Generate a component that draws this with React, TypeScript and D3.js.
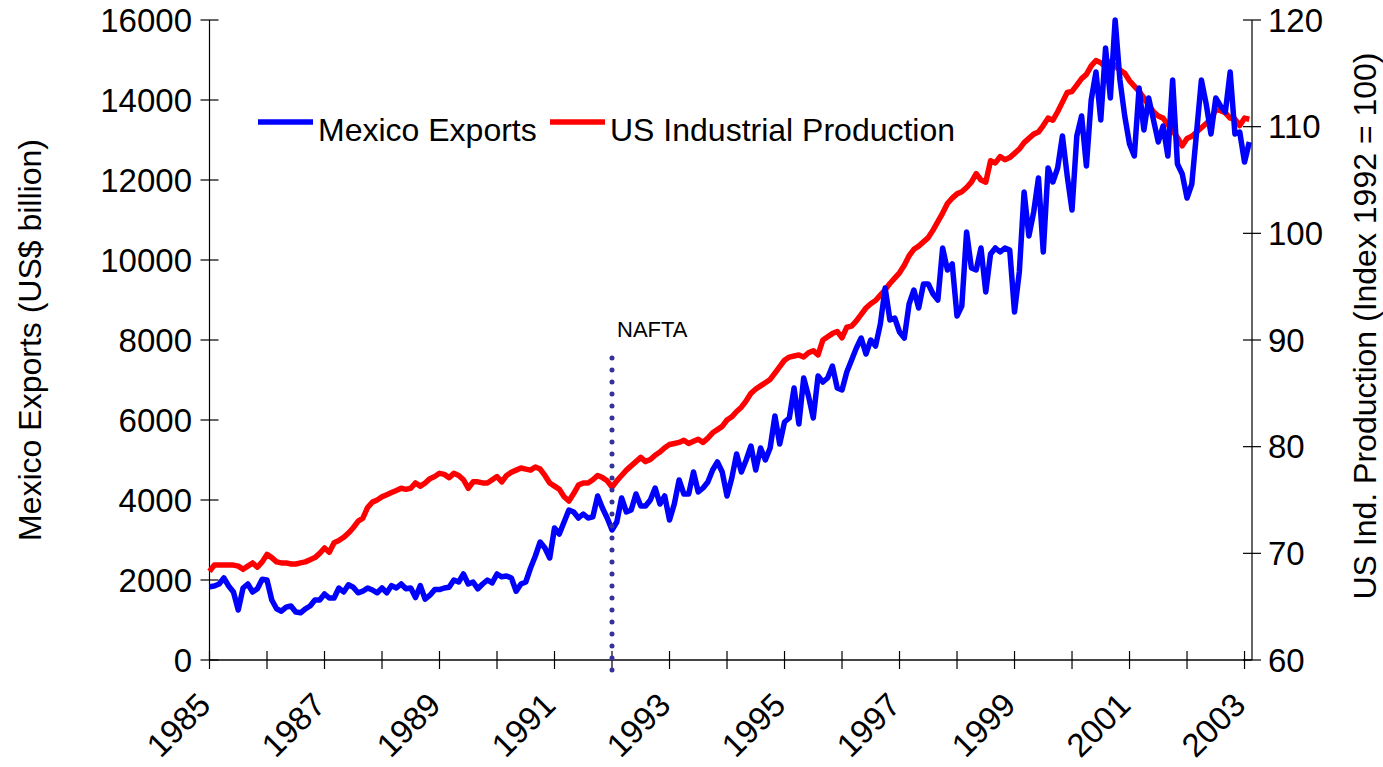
import React from "react";
import * as d3 from "d3";

// Monthly data, Jan 1985 .. Feb 2003
const startYear = 1985;
const exportsValues: number[] = [
  // 1985
  1830, 1850, 1900, 2050, 1850, 1700, 1250, 1800, 1900, 1700, 1780, 2020,
  // 1986
  2000, 1500, 1280, 1220, 1320, 1350, 1200, 1180, 1280, 1350, 1500, 1500,
  // 1987
  1650, 1550, 1550, 1800, 1700, 1880, 1820, 1680, 1720, 1800, 1750, 1680,
  // 1988
  1800, 1680, 1860, 1800, 1900, 1780, 1800, 1560, 1860, 1520, 1620, 1760,
  // 1989
  1760, 1800, 1820, 2000, 1950, 2150, 1900, 1950, 1780, 1900, 2000, 1930,
  // 1990
  2150, 2080, 2100, 2050, 1720, 1900, 1950, 2300, 2600, 2950, 2800, 2550,
  // 1991
  3300, 3150, 3450, 3750, 3700, 3550, 3650, 3550, 3580, 4100, 3800, 3550,
  // 1992
  3250, 3450, 4050, 3700, 3750, 4150, 3850, 3850, 4000, 4300, 3900, 4100,
  // 1993
  3500, 3900, 4500, 4150, 4150, 4700, 4200, 4300, 4450, 4750, 4950, 4700,
  // 1994
  4100, 4550, 5150, 4700, 5000, 5350, 4750, 5300, 5000, 5300, 6100, 5400,
  // 1995
  5950, 6050, 6800, 5900, 7050, 6600, 6050, 7100, 6950, 7050, 7350, 6800,
  // 1996
  6750, 7200, 7500, 7800, 8050, 7650, 8000, 7850, 8400, 9300, 8500, 8550,
  // 1997
  8200, 8050, 8900, 9250, 8800, 9400, 9400, 9150, 9000, 10300, 9750, 9900,
  // 1998
  8600, 8850, 10700, 9800, 9750, 10300, 9200, 10150, 10300, 10200, 10300, 10250,
  // 1999
  8700, 9700, 11700, 10600, 11200, 12050, 10200, 12300, 11950, 12300, 13100, 12100,
  // 2000
  11250, 13100, 13600, 12350, 14000, 14700, 13500, 15300, 14050, 16000, 14500, 13600,
  // 2001
  12900, 12600, 14300, 13250, 14050, 13500, 12950, 13350, 12600, 14500, 12400, 12150,
  // 2002
  11550, 11900, 13200, 14500, 13900, 13150, 14050, 13850, 13700, 14700, 13150, 13200,
  // 2003
  12450, 12950,
];

const ipValues: number[] = [
  // 1985
  68.3, 68.9, 68.9, 68.9, 68.9, 68.9, 68.8, 68.5, 68.8, 69.1, 68.7, 69.2,
  // 1986
  69.9, 69.6, 69.2, 69.1, 69.1, 69.0, 69.0, 69.1, 69.2, 69.4, 69.6, 70.0,
  // 1987
  70.5, 70.1, 71.0, 71.2, 71.5, 71.9, 72.4, 73.0, 73.3, 74.3, 74.8, 75.0,
  // 1988
  75.3, 75.5, 75.7, 75.9, 76.1, 76.0, 76.1, 76.6, 76.3, 76.6, 77.0, 77.2,
  // 1989
  77.5, 77.4, 77.1, 77.5, 77.3, 76.9, 76.1, 76.7, 76.7, 76.6, 76.6, 76.9,
  // 1990
  77.2, 76.7, 77.3, 77.6, 77.8, 78.0, 77.9, 77.8, 78.1, 77.9, 77.3, 76.6,
  // 1991
  76.3, 76.0, 75.3, 74.9, 75.6, 76.4, 76.6, 76.6, 76.9, 77.3, 77.1, 76.8,
  // 1992
  76.2, 76.8, 77.3, 77.8, 78.2, 78.6, 79.0, 78.6, 78.8, 79.2, 79.5, 79.9,
  // 1993
  80.2, 80.3, 80.4, 80.6, 80.3, 80.5, 80.7, 80.4, 80.8, 81.3, 81.6, 81.9,
  // 1994
  82.5, 82.8, 83.3, 83.7, 84.3, 85.0, 85.4, 85.7, 86.0, 86.3, 86.9, 87.5,
  // 1995
  88.1, 88.4, 88.5, 88.6, 88.4, 88.8, 89.0, 88.6, 90.0, 90.3, 90.6, 90.8,
  // 1996
  90.2, 91.2, 91.3, 91.8, 92.4, 93.0, 93.4, 93.7, 94.2, 94.7, 95.3, 95.8,
  // 1997
  96.3, 97.0, 97.9, 98.5, 98.8, 99.2, 99.6, 100.3, 101.1, 101.9, 102.8, 103.3,
  // 1998
  103.7, 103.9, 104.3, 104.8, 105.6, 105.0, 104.8, 106.8, 106.6, 107.2, 106.9, 107.1,
  // 1999
  107.5, 107.9, 108.5, 108.9, 109.3, 109.5, 110.1, 110.8, 110.6, 111.4, 112.3, 113.2,
  // 2000
  113.3, 113.9, 114.5, 114.9, 115.7, 116.2, 116.0, 115.6, 116.1, 115.7, 115.3, 115.0,
  // 2001
  114.3, 113.8, 113.3, 112.7, 112.0, 111.4, 111.0, 110.8, 110.2, 109.6, 109.0, 108.2,
  // 2002
  108.9, 109.1, 109.5, 109.9, 110.3, 110.7, 111.6, 111.5, 111.3, 110.8, 110.7, 110.1,
  // 2003
  110.8, 110.7,
];

const yearTicks: number[] = [1985, 1986, 1987, 1988, 1989, 1990, 1991, 1992, 1993, 1994,
  1995, 1996, 1997, 1998, 1999, 2000, 2001, 2002, 2003];
const yearLabels: number[] = [1985, 1987, 1989, 1991, 1993, 1995, 1997, 1999, 2001, 2003];
const leftTicks: number[] = [0, 2000, 4000, 6000, 8000, 10000, 12000, 14000, 16000];
const rightTicks: number[] = [60, 70, 80, 90, 100, 110, 120];
const naftaYear = 1992;

const seriesNames = ["Mexico Exports", "US Industrial Production"];
const seriesColors = ["#0000FF", "#FF0000"];

const W = 1383;
const H = 767;
const L = 209.5;
const R = 1252;
const T = 20;
const B = 660;
const FONT = "'Liberation Sans', Arial, Helvetica, sans-serif";

export default function App() {
  const x = d3.scaleLinear().domain([1985, 2003.13]).range([L, R]);
  const yL = d3.scaleLinear().domain([0, 16000]).range([B, T]);
  const yR = d3.scaleLinear().domain([60, 120]).range([B, T]);

  const tOf = (i: number) => startYear + i / 12;
  const lineL = d3.line<number>().x((_, i) => x(tOf(i))).y((d) => yL(d));
  const lineR = d3.line<number>().x((_, i) => x(tOf(i))).y((d) => yR(d));

  const axisColor = "#000";
  const fs = 33;

  return (
    <svg width={W} height={H} style={{ position: "absolute", left: 0, top: 0, background: "#fff" }}
      fontFamily={FONT}>
      {/* axes */}
      <line x1={L} x2={L} y1={T} y2={B} stroke={axisColor} strokeWidth={1.2} />
      <line x1={R} x2={R} y1={T} y2={B} stroke={axisColor} strokeWidth={1.2} />
      <line x1={L} x2={R} y1={B} y2={B} stroke="#444" strokeWidth={2} />
      {leftTicks.map((v) => (
        <g key={"l" + v}>
          <line x1={L - 9} x2={L + 9} y1={yL(v)} y2={yL(v)} stroke={axisColor} strokeWidth={1.2} />
          <text x={192} y={yL(v)} dy="0.35em" textAnchor="end" fontSize={fs}>{v}</text>
        </g>
      ))}
      {rightTicks.map((v) => (
        <g key={"r" + v}>
          <line x1={R - 9} x2={R + 9} y1={yR(v)} y2={yR(v)} stroke={axisColor} strokeWidth={1.2} />
          <text x={1268} y={yR(v)} dy="0.35em" textAnchor="start" fontSize={fs}>{v}</text>
        </g>
      ))}
      {yearTicks.map((yr) => (
        <line key={"t" + yr} x1={x(yr)} x2={x(yr)} y1={B - 9} y2={B + 9} stroke={axisColor} strokeWidth={1.2} />
      ))}
      {yearLabels.map((yr) => (
        <text key={"y" + yr} transform={`translate(${x(yr) + 3},${707}) rotate(-45)`}
          textAnchor="end" fontSize={fs}>{yr}</text>
      ))}

      {/* axis titles */}
      <text transform={`translate(30,340) rotate(-90)`} textAnchor="middle" dy="0.35em" fontSize={32}>
        Mexico Exports (US$ billion)
      </text>
      <text transform={`translate(1365,326) rotate(-90)`} textAnchor="middle" dy="0.35em" fontSize={32}>
        US Ind. Production (Index 1992 = 100)
      </text>

      {/* series */}
      <path d={lineR(ipValues) || ""} fill="none" stroke={seriesColors[1]} strokeWidth={5.5} strokeLinejoin="round" />
      <path d={lineL(exportsValues) || ""} fill="none" stroke={seriesColors[0]} strokeWidth={5.5} strokeLinejoin="round" />

      {/* NAFTA marker */}
      <line x1={x(naftaYear)} x2={x(naftaYear)} y1={358} y2={677} stroke="#333399"
        strokeWidth={5} strokeDasharray="0 12" strokeLinecap="round" />
      <text x={x(naftaYear) + 5} y={337} fontSize={22}>NAFTA</text>

      {/* legend */}
      <line x1={258} x2={313} y1={122} y2={122} stroke={seriesColors[0]} strokeWidth={5.5} />
      <text x={318} y={141} fontSize={32}>{seriesNames[0]}</text>
      <line x1={550} x2={605} y1={122} y2={122} stroke={seriesColors[1]} strokeWidth={5.5} />
      <text x={610} y={141} fontSize={32}>{seriesNames[1]}</text>
    </svg>
  );
}
